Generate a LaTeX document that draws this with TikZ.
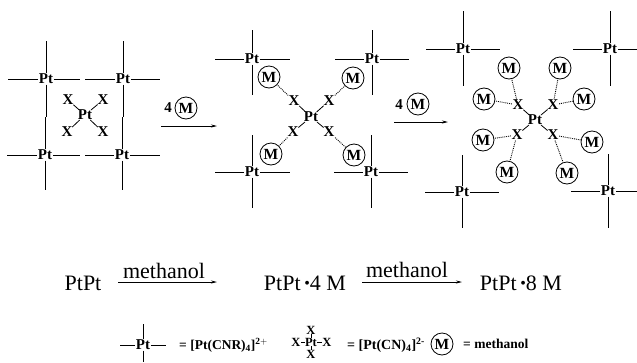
\documentclass[tikz,border=0pt]{standalone}
\usepackage{fontspec}
\setmainfont{Liberation Serif}
\usetikzlibrary{arrows.meta}
\tikzset{
  ptnode/.style={inner sep=0.5pt, font=\fontsize{15}{15}\selectfont\bfseries},
  xnode/.style={inner sep=0.5pt, font=\fontsize{15}{15}\selectfont\bfseries},
  keynode/.style={inner sep=0pt, font=\fontsize{12.5}{12.5}\selectfont\bfseries},
  mnode/.style={circle, draw, line width=0.8pt, minimum size=22pt, inner sep=0pt, font=\fontsize{15.5}{15.5}\selectfont\bfseries},
  arm/.style={line width=0.8pt},
  bond/.style={line width=0.8pt, shorten <=-1pt, shorten >=-1pt},
  dots/.style={line width=0.9pt, densely dotted},
  rxn/.style={line width=0.8pt, -{Stealth[length=6pt,width=3pt]}},
  big/.style={inner sep=0pt, font=\fontsize{22}{22}\selectfont},
  legend/.style={inner sep=0pt, anchor=west, font=\fontsize{13.5}{14}\selectfont\bfseries}
}
\begin{document}
\begin{tikzpicture}[x=1pt, y=-1pt]
  \useasboundingbox (0,0) rectangle (637,362);
  % platinum crosses: name/x/y/left/right/up/down
  \foreach \n/\x/\y/\l/\r/\u/\d in {
    a1/46/79/38/34/38/38, a2/123/79/38/37/38/38,
    a3/45/155/38/35/38/35, a4/122/155/37/38/38/35,
    b1/252/59/37/38/29/36, b2/372/59/37/37/29/36,
    b3/252/172/37/38/37/36, b4/371/172/37/37/37/36,
    c1/463/49/37/37/38/37, c2/610/49/37/27/38/37,
    c3/462/192/37/37/37/36, c4/608/191/37/29/37/37,
    d0/143/345/23/23/21/17
  }{
    \node[ptnode] (p\n) at (\x,\y) {Pt};
    \coordinate (w\n) at (\x-\l,\y);
    \coordinate (e\n) at (\x+\r,\y);
    \coordinate (t\n) at (\x,\y-\u);
    \coordinate (s\n) at (\x,\y+\d);
    \draw[arm] (p\n) -- (w\n) (p\n) -- (e\n) (p\n.north) -- (t\n) (p\n.south) -- (s\n);
  }
  % first square
  \node[ptnode] (ca) at (85,115) {Pt};
  \foreach \n/\x/\y in {1/68/100, 2/103/100, 3/67/132, 4/103/132}{
    \node[xnode] (xa\n) at (\x,\y) {X};
    \draw[bond] (ca) -- (xa\n);
  }
  % four methanol
  \node[ptnode] (cb) at (311,117) {Pt};
  \foreach \n/\x/\y/\mx/\my in {1/294/101/269/77, 2/329/101/353/78, 3/293/132/271/154, 4/329/132/354/155}{
    \node[xnode] (xb\n) at (\x,\y) {X};
    \node[mnode] (mb\n) at (\mx,\my) {M};
    \draw[bond] (cb) -- (xb\n);
    \draw[dots] (xb\n) -- (mb\n);
  }
  % eight methanol
  \node[ptnode] (cc) at (535,120) {Pt};
  \foreach \n/\x/\y in {1/518/105, 2/553/105, 3/517/135, 4/553/135}{
    \node[xnode] (xc\n) at (\x,\y) {X};
    \draw[bond] (cc) -- (xc\n);
  }
  \foreach \n/\k/\x/\y in {1/1/509/68, 2/1/484/99, 3/2/560/68, 4/2/584/99,
                           5/3/483/140, 6/3/507/172, 7/4/592/142, 8/4/567/173}{
    \node[mnode] (mc\n) at (\x,\y) {M};
    \draw[dots] (xc\k) -- (mc\n);
  }
  % arrows of the upper row
  \coordinate (r1a) at (161,126);
  \coordinate (r1b) at (217,126);
  \coordinate (r2a) at (394,122);
  \coordinate (r2b) at (448,122);
  \draw[rxn] (r1a) -- (r1b);
  \draw[rxn] (r2a) -- (r2b);
  \node[xnode] (four1) at (168,108) {4};
  \node[mnode] (mr1) at (186,108) {M};
  \node[xnode] (four2) at (399,105) {4};
  \node[mnode] (mr2) at (418,104) {M};
  % lower row
  \node[big] (s1) at (83,283) {PtPt};
  \node[big] (s2) at (305,283) {PtPt\,\raisebox{1.5pt}{\fontsize{16}{16}\selectfont\textbullet}4 M};
  \node[big] (s3) at (521,283) {PtPt\,\raisebox{1.5pt}{\fontsize{16}{16}\selectfont\textbullet}8 M};
  \coordinate (q1a) at (118,282);
  \coordinate (q1b) at (217,282);
  \coordinate (q2a) at (362,282);
  \coordinate (q2b) at (462,282);
  \draw[rxn] (q1a) -- (q1b);
  \draw[rxn] (q2a) -- (q2b);
  \node[big] (t1) at (164,271) {methanol};
  \node[big] (t2) at (407,270) {methanol};
  % legend
  \node[legend] (l1) at (179,345) {= [Pt(CNR)$_{\mathbf 4}$]$^{\mathbf{2+}}$};
  \node[keynode] (ld) at (311,342) {Pt};
  \foreach \n/\x/\y in {1/296/342, 2/327/342, 3/311/330, 4/311/354}{
    \node[keynode] (lx\n) at (\x,\y) {X};
    \draw[line width=0.6pt] (ld) -- (lx\n);
  }
  \node[legend, font=\fontsize{14}{15}\selectfont\bfseries] (l2) at (347,345) {= [Pt(CN)$_{\mathbf 4}$]\textsuperscript{2-}};
  \node[mnode] (lm) at (442,344) {M};
  \node[legend] (l3) at (463,344) {= methanol};
\end{tikzpicture}
\end{document}
